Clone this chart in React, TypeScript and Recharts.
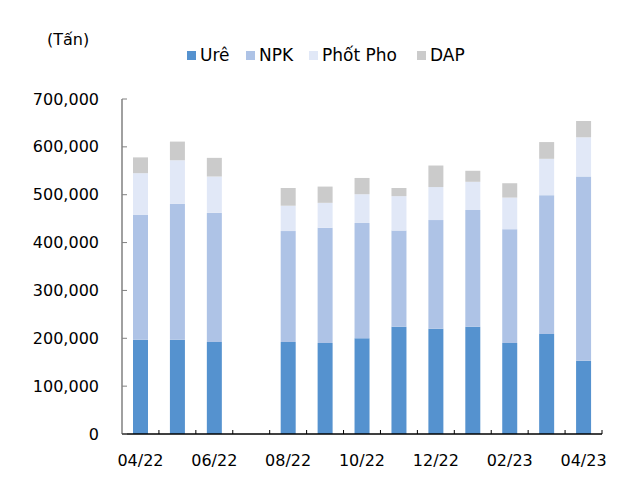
import React from "react";
import { BarChart, Bar, XAxis, YAxis } from "recharts";

const months = ["04/22", "05/22", "06/22", "07/22", "08/22", "09/22", "10/22", "11/22", "12/22", "01/23", "02/23", "03/23", "04/23"];
const ure = [197000, 197000, 192000, null, 192000, 190000, 200000, 224000, 220000, 224000, 190000, 209000, 153000];
const npk = [261000, 284000, 270000, null, 232000, 241000, 241000, 201000, 227000, 244000, 238000, 290000, 385000];
const photPho = [87000, 91000, 76000, null, 53000, 52000, 60000, 72000, 69000, 59000, 66000, 76000, 82000];
const dap = [33000, 39000, 39000, null, 37000, 34000, 34000, 17000, 45000, 23000, 30000, 35000, 34000];
const yTicks = [0, 100000, 200000, 300000, 400000, 500000, 600000, 700000];
const seriesKeys = ["ure", "npk", "photPho", "dap"];
const seriesNames = ["Urê", "NPK", "Phốt Pho", "DAP"];
const seriesColors = ["#5592CF", "#AEC3E6", "#E1E8F7", "#CBCBCB"];
const unitLabel = "(Tấn)";

const data = months.map((m, i) => ({
  month: m,
  ure: ure[i],
  npk: npk[i],
  photPho: photPho[i],
  dap: dap[i],
}));

const W = 605;
const H = 470;
const M = { top: 91, right: 11, left: 54, bottom: 4 };
const Y_W = 60;
const X_H = 40;
const plotW = W - M.left - Y_W - M.right;
const band = plotW / months.length;
const FONT = "'DejaVu Sans', sans-serif";

const fmt = (v: number) => v.toLocaleString("en-US");

const XTick = (props: any) => {
  const { x, y, payload, index } = props;
  return (
    <g>
      <line x1={x + band / 2} y1={y} x2={x + band / 2} y2={y - 4} stroke="#000" strokeWidth={1} />
      {index % 2 === 0 ? (
        <text x={x} y={y + 26} dy="0.35em" textAnchor="middle" fontFamily={FONT} fontSize={16} fill="#000">
          {payload.value}
        </text>
      ) : null}
    </g>
  );
};

const YTick = (props: any) => {
  const { x, y, payload } = props;
  return (
    <g>
      <line x1={x} y1={y} x2={x + 5} y2={y} stroke="#808080" strokeWidth={1} />
      <text x={x - 23} y={y} dy="0.35em" textAnchor="end" fontFamily={FONT} fontSize={16} fill="#000">
        {fmt(payload.value)}
      </text>
    </g>
  );
};

const legendLefts = [179, 238, 301, 409];

export default function App() {
  return (
    <div style={{ position: "relative", width: W, height: H }}>
      <div
        style={{
          position: "absolute",
          left: 39,
          top: 22,
          height: 20,
          lineHeight: "20px",
          fontFamily: FONT,
          fontSize: 16,
          color: "#000",
        }}
      >
        {unitLabel}
      </div>
      {seriesNames.map((name, i) => (
        <div
          key={name}
          style={{
            position: "absolute",
            left: legendLefts[i],
            top: 37,
            height: 20,
            display: "flex",
            alignItems: "center",
            fontFamily: FONT,
            fontSize: 17,
            color: "#000",
            whiteSpace: "nowrap",
          }}
        >
          <span style={{ display: "inline-block", width: 9, height: 9, background: seriesColors[i], marginRight: 4 }} />
          <span>{name}</span>
        </div>
      ))}
      <BarChart width={W} height={H} data={data} margin={M} barSize={15}>
        <YAxis
          width={Y_W}
          domain={[0, 700000]}
          ticks={yTicks}
          interval={0}
          tickSize={0}
          tickMargin={0}
          tickLine={false}
          axisLine={{ stroke: "#808080", strokeWidth: 1.5 }}
          tick={<YTick />}
        />
        <XAxis
          dataKey="month"
          height={X_H}
          interval={0}
          tickSize={0}
          tickMargin={0}
          tickLine={false}
          axisLine={{ stroke: "#000", strokeWidth: 1.5 }}
          tick={<XTick />}
        />
        {seriesKeys.map((k, i) => (
          <Bar key={k} dataKey={k} name={seriesNames[i]} stackId="a" fill={seriesColors[i]} isAnimationActive={false} />
        ))}
      </BarChart>
    </div>
  );
}
